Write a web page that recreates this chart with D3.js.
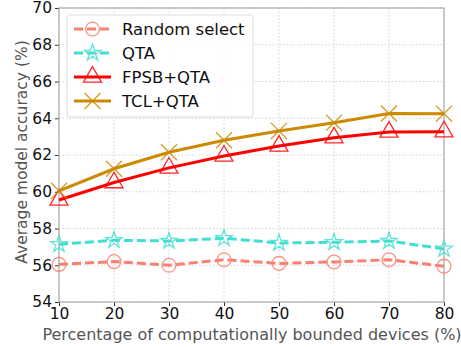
<!DOCTYPE html>
<html>
<head>
<meta charset="utf-8">
<script src="https://d3js.org/d3.v7.min.js"></script>
<style>
  body { margin: 0; background: #fff; }
  svg text { font-family: "DejaVu Sans", sans-serif; }
</style>
</head>
<body>
<div id="chart"></div>
<script>
"use strict";
// data
var percents = [10, 20, 30, 40, 50, 60, 70, 80];
var randomSelect = [56.05, 56.2, 56.0, 56.3, 56.1, 56.18, 56.3, 55.95];
var qta = [57.14, 57.36, 57.32, 57.47, 57.21, 57.25, 57.32, 56.89];
var fpsbQta = [59.55, 60.5, 61.3, 61.95, 62.49, 62.94, 63.25, 63.27];
var tclQta = [60.05, 61.25, 62.15, 62.8, 63.31, 63.76, 64.26, 64.25];
var yTicks = [54, 56, 58, 60, 62, 64, 66, 68, 70];

var series = [
  {name: "Random select", vals: randomSelect, color: "#fa8072", dash: "9,4", marker: "circle"},
  {name: "QTA", vals: qta, color: "#40e0d0", dash: "9,4", marker: "star"},
  {name: "FPSB+QTA", vals: fpsbQta, color: "#ff0000", dash: null, marker: "triangle"},
  {name: "TCL+QTA", vals: tclQta, color: "#cc8a00", dash: null, marker: "x"}
];

var W = 461, H = 347;
var margin = {top: 8, right: 17, bottom: 45, left: 59};
var w = W - margin.left - margin.right, h = H - margin.top - margin.bottom;

var svg = d3.select("#chart").append("svg").attr("width", W).attr("height", H);
var g = svg.append("g").attr("transform", "translate(" + margin.left + "," + margin.top + ")");

var x = d3.scaleLinear().domain([10, 80]).range([0, w]);
var y = d3.scaleLinear().domain([54, 70]).range([h, 0]);

// grid
g.append("g").selectAll("line").data(percents).enter().append("line")
  .attr("x1", d => x(d)).attr("x2", d => x(d)).attr("y1", 0).attr("y2", h)
  .attr("stroke", "#c8c8c8").attr("stroke-dasharray", "1.5,2").attr("stroke-width", 0.8);
g.append("g").selectAll("line").data(yTicks).enter().append("line")
  .attr("y1", d => y(d)).attr("y2", d => y(d)).attr("x1", 0).attr("x2", w)
  .attr("stroke", "#c8c8c8").attr("stroke-dasharray", "1.5,2").attr("stroke-width", 0.8);

// axes
var xAxis = g.append("g").attr("transform", "translate(0," + h + ")")
  .call(d3.axisBottom(x).tickValues(percents).tickSize(4).tickPadding(2));
var yAxis = g.append("g")
  .call(d3.axisLeft(y).tickValues(yTicks).tickSize(4).tickPadding(3));
[xAxis, yAxis].forEach(function(a) {
  a.select(".domain").remove();
  a.selectAll("text").attr("font-size", 15.5).attr("fill", "#111");
  a.selectAll("line").attr("stroke", "#333");
});

// frame
g.append("rect").attr("width", w).attr("height", h)
  .attr("fill", "none").attr("stroke", "#aaa").attr("stroke-width", 1.2);

function markerPath(type) {
  if (type === "circle") return d3.symbol().type(d3.symbolCircle).size(150)();
  if (type === "star") return d3.symbol().type(d3.symbolStar).size(85)();
  if (type === "triangle") return d3.symbol().type(d3.symbolTriangle).size(140)();
  return d3.symbol().type(d3.symbolTimes).size(170)();
}

var line = d3.line().x((d, i) => x(percents[i])).y(d => y(d));

series.forEach(function(s) {
  g.append("path").datum(s.vals)
    .attr("d", line).attr("fill", "none")
    .attr("stroke", s.color).attr("stroke-width", 3)
    .attr("stroke-dasharray", s.dash);
  g.append("g").selectAll("path").data(s.vals).enter().append("path")
    .attr("d", markerPath(s.marker))
    .attr("transform", (d, i) => "translate(" + x(percents[i]) + "," + y(d) + ")")
    .attr("fill", "none").attr("stroke", s.color).attr("stroke-width", 1.3)
    .attr("opacity", 0.85);
});

// legend
var lg = g.append("g").attr("transform", "translate(8,7)");
lg.append("rect").attr("width", 186).attr("height", 102).attr("rx", 3)
  .attr("fill", "#fff").attr("fill-opacity", 0.85).attr("stroke", "#ddd");
series.forEach(function(s, i) {
  var ly = 14 + i * 24;
  lg.append("line").attr("x1", 7).attr("x2", 44).attr("y1", ly).attr("y2", ly)
    .attr("stroke", s.color).attr("stroke-width", 3).attr("stroke-dasharray", s.dash);
  lg.append("path").attr("d", markerPath(s.marker))
    .attr("transform", "translate(25.5," + ly + ")")
    .attr("fill", "none").attr("stroke", s.color).attr("stroke-width", 1.3).attr("opacity", 0.85);
  lg.append("text").attr("x", 55).attr("y", ly).attr("dy", "0.35em")
    .attr("font-size", 16.5).attr("fill", "#111").text(s.name);
});

// axis labels
svg.append("text").attr("x", 252).attr("y", 340)
  .attr("text-anchor", "middle").attr("font-size", 16).attr("fill", "#555")
  .text("Percentage of computationally bounded devices (%)");
svg.append("text").attr("transform", "translate(27,152) rotate(-90)")
  .attr("text-anchor", "middle").attr("font-size", 15.5).attr("fill", "#555")
  .text("Average model accuracy (%)");
</script>
</body>
</html>
